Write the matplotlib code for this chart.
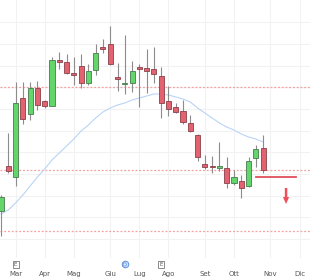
import matplotlib
matplotlib.use("Agg")
import matplotlib.pyplot as plt
import matplotlib.transforms as mtransforms
import numpy as np

# Weekly OHLC (price units)
opens  = [6.9, 11.4, 10.3, 18.2, 16.6, 19.2, 17.9, 17.4, 22.0, 21.8, 20.6, 21.4, 19.7, 21.0, 23.3, 23.6,
          20.25, 19.6, 19.7, 21.25, 21.2, 21.1, 20.4, 17.9, 17.3, 16.9, 15.7, 14.5, 11.6, 11.4, 11.2, 11.2,
          9.7, 9.9, 9.4, 12.2, 13.2]
highs  = [8.5, 14.7, 19.8, 19.8, 19.8, 19.9, 18.0, 22.3, 22.8, 22.6, 22.3, 22.6, 21.6, 23.6, 24.1, 25.4,
          21.7, 24.5, 21.9, 21.6, 23.1, 23.3, 21.3, 19.4, 17.7, 18.0, 16.5, 14.6, 12.5, 12.4, 13.8, 12.3,
          11.0, 10.5, 12.3, 13.5, 14.5]
lows   = [4.4, 10.7, 9.4, 15.6, 16.0, 17.0, 17.2, 17.4, 21.1, 20.6, 19.5, 19.2, 19.5, 20.5, 22.7, 21.5,
          18.9, 18.6, 18.8, 17.3, 18.7, 19.7, 16.2, 16.4, 16.7, 15.6, 14.8, 11.9, 11.1, 10.7, 10.9, 9.2,
          9.5, 8.2, 9.3, 11.3, 10.7]
closes = [8.3, 10.9, 17.7, 16.1, 19.2, 17.5, 17.4, 22.0, 21.8, 20.7, 20.55, 19.7, 20.9, 22.7, 23.15, 21.6,
          20.15, 19.7, 20.9, 21.15, 20.9, 20.6, 17.7, 17.1, 16.8, 15.8, 14.9, 12.3, 11.3, 11.3, 11.4, 9.7,
          10.3, 9.2, 11.9, 13.1, 11.0]
moving_avg = [6.6, 7.0, 7.7, 8.5, 9.4, 10.3, 11.1, 12.0, 12.7, 13.4, 14.1, 14.9, 15.5, 16.2, 16.8, 17.2,
              17.5, 17.7, 18.0, 18.2, 18.4, 18.6, 18.6, 18.5, 18.3, 18.1, 17.8, 17.2, 16.7, 16.2, 15.7,
              15.3, 15.0, 14.6, 14.3, 14.1, 13.8]
dotted_levels = [19.3, 11.0, 4.9]
stop_level = 10.3
arrow_from, arrow_to = 9.2, 7.6

month_labels = ["Mar", "Apr", "Mag", "Giu", "Lug", "Ago", "Set", "Ott", "Nov", "Dic"]
month_bars = [2, 6, 10, 15, 19, 23, 28, 32, 37, 41]
grid_levels = [25.8, 23.6, 21.4, 19.3, 17.1, 14.9, 12.8, 10.6, 8.4, 6.3, 4.1]

fig = plt.figure(figsize=(3.1, 2.8), dpi=100)
ax = fig.add_axes([0, 22/280, 1, 258/280])
ax.set_xlim(-0.14, 42.44)
ax.set_ylim(2.2, 28)

x = np.arange(len(opens))
o = np.array(opens); c = np.array(closes); h = np.array(highs); l = np.array(lows)
up = c >= o

# grid
for g in grid_levels:
    ax.axhline(g, color="#f2f2f2", lw=0.8, zorder=0)
for m in month_bars:
    ax.axvline(m, color="#f2f2f2", lw=0.8, zorder=0)

for lv in dotted_levels:
    ax.axhline(lv, color="#f4a0a0", lw=0.9, ls=(0, (1.5, 1.5)), zorder=1)

ax.plot(x, moving_avg, color="#b9d4f6", lw=0.8, zorder=2)

ax.vlines(x, l, h, color="#8c8c8c", lw=0.8, zorder=3)
body_h = np.maximum(np.abs(c - o), 0.12)
body_b = np.minimum(o, c)
ax.bar(x[up], body_h[up], bottom=body_b[up], width=0.7, color="#62d66a",
       edgecolor="#4a7a4e", lw=0.6, zorder=4)
ax.bar(x[~up], body_h[~up], bottom=body_b[~up], width=0.7, color="#e2636f",
       edgecolor="#8a4048", lw=0.6, zorder=4)

ax.plot([35, 40.5], [stop_level, stop_level], color="#e0505c", lw=1.3, zorder=5)
ax.annotate("", xy=(39.15, arrow_to), xytext=(39.15, arrow_from),
            arrowprops=dict(arrowstyle="simple,head_width=0.45,head_length=0.5,tail_width=0.18",
                            color="#f0505c", lw=0, shrinkA=0, shrinkB=0), zorder=5)

ax.set_xticks(month_bars)
ax.set_xticklabels(month_labels, fontsize=5, color="#555555")
ax.tick_params(axis="x", length=0, pad=9.5)
ax.set_yticks([])
for s in ax.spines.values():
    s.set_visible(False)

trans = mtransforms.blended_transform_factory(ax.transData, ax.transAxes)
for xi in [2, 22]:
    ax.text(xi, -0.025, "E", transform=trans, fontsize=4, color="#555555", ha="center", va="center",
            bbox=dict(boxstyle="square,pad=0.25", fc="white", ec="#777777", lw=0.6), clip_on=False)
ax.scatter([17], [-0.025], transform=trans, s=22, facecolor="#dbe8fb", edgecolor="#5b8fe0",
           lw=0.7, clip_on=False, zorder=6)
ax.scatter([17], [-0.025], transform=trans, s=6, facecolor="none", edgecolor="#5b8fe0",
           lw=0.5, clip_on=False, zorder=7)

fig.savefig("out.png", dpi=100)
